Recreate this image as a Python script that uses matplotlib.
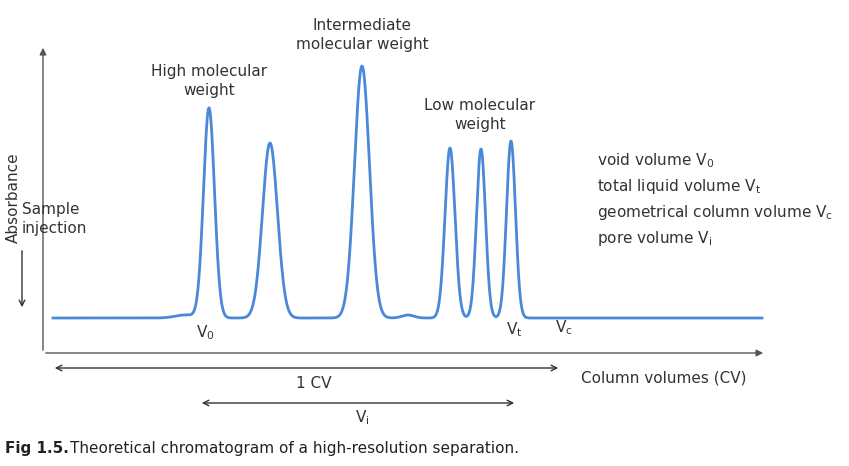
import numpy as np
import matplotlib.pyplot as plt

# peaks (x position, top, width), pixel-like units
peak_x = [209, 270, 362, 450, 481, 511]
peak_top = [108, 143, 66, 148, 149, 141]
peak_sigma = [5.5, 7.5, 7.5, 5.0, 4.5, 4.5]
baseline = 318

x = np.linspace(53, 762, 3000)
y = np.full_like(x, baseline, dtype=float)
for px, pt, s in zip(peak_x, peak_top, peak_sigma):
    y -= (baseline - pt) * np.exp(-0.5 * ((x - px) / s) ** 2)
y -= 3 * np.exp(-0.5 * ((x - 185) / 10) ** 2)
y -= 3 * np.exp(-0.5 * ((x - 408) / 6) ** 2)

fig = plt.figure(figsize=(8.49, 4.66), dpi=100)
ax = fig.add_axes([0, 0, 1, 1])
ax.set_xlim(0, 849)
ax.set_ylim(466, 0)
ax.axis("off")

txt = "#333333"
ax.plot(x, y, color="#4a88d9", lw=2)

arr = dict(arrowstyle="-|>", color="#555555", lw=1, mutation_scale=10)
ax.annotate("", xy=(43, 45), xytext=(43, 353), arrowprops=arr)
ax.annotate("", xy=(766, 353), xytext=(43, 353), arrowprops=arr)
ax.annotate("", xy=(22, 310), xytext=(22, 248), arrowprops=dict(arrowstyle="->", color="#333333", lw=1))
ax.annotate("", xy=(52, 368), xytext=(561, 368), arrowprops=dict(arrowstyle="<->", color="#333333", lw=1))
ax.annotate("", xy=(199, 403), xytext=(517, 403), arrowprops=dict(arrowstyle="<->", color="#333333", lw=1))

fs = 11
ax.text(13, 198, "Absorbance", rotation=90, ha="center", va="center", fontsize=fs, color=txt)
ax.text(22, 219, "Sample\ninjection", ha="left", va="center", fontsize=fs, color=txt, linespacing=1.4)
ax.text(209, 81, "High molecular\nweight", ha="center", va="center", fontsize=fs, color=txt, linespacing=1.3)
ax.text(362, 35, "Intermediate\nmolecular weight", ha="center", va="center", fontsize=fs, color=txt, linespacing=1.3)
ax.text(480, 115, "Low molecular\nweight", ha="center", va="center", fontsize=fs, color=txt, linespacing=1.3)
ax.text(597, 200, "void volume V$_\\mathrm{0}$\ntotal liquid volume V$_\\mathrm{t}$\n"
        "geometrical column volume V$_\\mathrm{c}$\npore volume V$_\\mathrm{i}$",
        ha="left", va="center", fontsize=fs, color=txt, linespacing=1.5)
ax.text(205, 333, "V$_\\mathrm{0}$", ha="center", va="center", fontsize=fs, color=txt)
ax.text(514, 330, "V$_\\mathrm{t}$", ha="center", va="center", fontsize=fs, color=txt)
ax.text(564, 328, "V$_\\mathrm{c}$", ha="center", va="center", fontsize=fs, color=txt)
ax.text(314, 383, "1 CV", ha="center", va="center", fontsize=fs, color=txt)
ax.text(362, 418, "V$_\\mathrm{i}$", ha="center", va="center", fontsize=fs, color=txt)
ax.text(581, 378, "Column volumes (CV)", ha="left", va="center", fontsize=fs, color=txt)
ax.text(5, 448, "Fig 1.5.", ha="left", va="center", fontsize=fs, color="#222222", fontweight="bold")
ax.text(70, 448, "Theoretical chromatogram of a high-resolution separation.", ha="left", va="center",
        fontsize=fs, color="#222222")

fig.savefig("out.png", dpi=100)
